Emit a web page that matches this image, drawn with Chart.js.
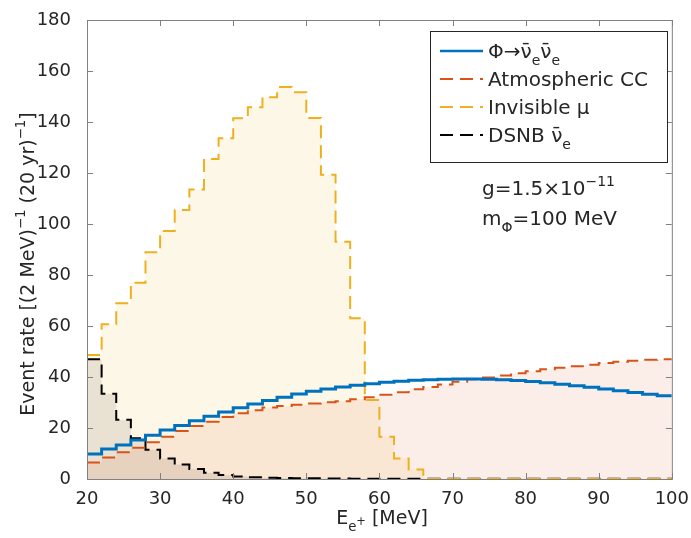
<!DOCTYPE html>
<html>
<head>
<meta charset="utf-8">
<script src="https://cdn.jsdelivr.net/npm/chart.js@4.4.1/dist/chart.umd.min.js"></script>
<style>
  html, body { margin: 0; padding: 0; background: #fff; }
</style>
</head>
<body>
<canvas id="chart" width="691" height="538"></canvas>
<script>
// bin edges in MeV (2 MeV bins), values are per bin starting at the left edge
var binEdges = [20, 22, 24, 26, 28, 30, 32, 34, 36, 38, 40, 42, 44, 46, 48, 50, 52, 54, 56, 58,
                60, 62, 64, 66, 68, 70, 72, 74, 76, 78, 80, 82, 84, 86, 88, 90, 92, 94, 96, 98, 100];

var phiRate = [9.8, 11.8, 13.3, 15.3, 17.2, 19.2, 21.0, 22.8, 24.6, 26.3,
               27.9, 29.4, 30.8, 32.1, 33.3, 34.4, 35.3, 36.1, 36.8, 37.4,
               37.9, 38.3, 38.7, 38.9, 39.1, 39.2, 39.2, 39.1, 38.9, 38.6,
               38.2, 37.7, 37.2, 36.6, 36.0, 35.3, 34.6, 33.9, 33.2, 32.6];

var atmRate = [6.5, 8.4, 10.5, 12.3, 14.4, 16.6, 18.8, 20.8, 22.5, 24.3,
               25.8, 27.0, 28.0, 28.6, 29.1, 29.6, 30.1, 30.5, 31.3, 32.1,
               33.0, 34.0, 35.2, 36.1, 37.1, 38.1, 39.1, 39.8, 40.6, 41.5,
               42.3, 43.0, 43.6, 44.2, 44.8, 45.5, 46.0, 46.4, 46.8, 47.0];

var invisibleMu = [48.6, 60.7, 68.9, 77.0, 88.9, 97.3, 105.5, 113.5, 125.5, 133.6,
                   141.5, 145.8, 149.7, 153.7, 151.7, 141.6, 119.3, 93.0, 63.0, 31.0,
                   16.6, 8.0, 3.7, 0, 0, 0, 0, 0, 0, 0,
                   0, 0, 0, 0, 0, 0, 0, 0, 0, 0];

var dsnbRate = [47.0, 33.4, 23.2, 16.0, 11.5, 8.0, 5.7, 3.9, 2.5, 1.6,
                1.0, 0.7, 0.5, 0.4, 0.3, 0.25, 0.2, 0.15, 0.12, 0.1,
                0.1, 0.1, 0.1, 0.1, 0.1, 0.1, 0.1, 0.1, 0.1, 0.1,
                0.1, 0.1, 0.1, 0.1, 0.1, 0.1, 0.1, 0.1, 0.1, 0.1];

var xTicks = [20, 30, 40, 50, 60, 70, 80, 90, 100];
var yTicks = [0, 20, 40, 60, 80, 100, 120, 140, 160, 180];

var FONT = '"DejaVu Sans", sans-serif';
var TEXT = '#262626';
var AXIS = '#808080';

// histogram points: value i holds from binEdges[i] to binEdges[i+1]
function steps(vals) {
  return binEdges.map(function(x, i) {
    return {x: x, y: vals[Math.min(i, vals.length - 1)]};
  });
}

// text made of pieces, some sub/superscript
var SHIFT = {sub: 0.35, sup: -0.45, subsup: 0.05};
function pieceSize(p, size) {
  if (p[1] === 'subsup') return size * 0.6;
  return p[1] ? size * 0.7 : size;
}
function richWidth(ctx, parts, size) {
  var w = 0;
  parts.forEach(function(p) {
    ctx.font = pieceSize(p, size) + 'px ' + FONT;
    w += ctx.measureText(p[0]).width;
  });
  return w;
}
function drawRich(ctx, parts, x, y, size) {
  parts.forEach(function(p) {
    var dy = p[1] ? SHIFT[p[1]] * size : 0;
    ctx.font = pieceSize(p, size) + 'px ' + FONT;
    ctx.fillText(p[0], x, y + dy);
    x += ctx.measureText(p[0]).width;
  });
  return x;
}

var legendItems = [
  {parts: [['Φ→ν\u0304', ''], ['e', 'sub'], ['ν\u0304', ''], ['e', 'sub']], color: '#0072BD', dash: []},
  {parts: [['Atmospheric CC', '']], color: '#D95319', dash: [13, 7]},
  {parts: [['Invisible μ', '']], color: '#EDB120', dash: [13, 7]},
  {parts: [['DSNB ν\u0304', ''], ['e', 'sub']], color: '#000000', dash: [13, 7]}
];

var decorations = {
  id: 'decorations',
  afterDraw: function(chart) {
    var ctx = chart.ctx;
    var a = chart.chartArea;
    var xs = chart.scales.x, ys = chart.scales.y;
    ctx.save();

    // box and inner ticks
    ctx.strokeStyle = AXIS;
    ctx.lineWidth = 1;
    ctx.setLineDash([]);
    ctx.strokeRect(a.left + 0.5, a.top + 0.5, a.right - a.left, a.bottom - a.top);
    ctx.beginPath();
    xTicks.forEach(function(v) {
      var px = Math.round(xs.getPixelForValue(v)) + 0.5;
      ctx.moveTo(px, a.bottom); ctx.lineTo(px, a.bottom - 6);
      ctx.moveTo(px, a.top); ctx.lineTo(px, a.top + 6);
    });
    yTicks.forEach(function(v) {
      var py = Math.round(ys.getPixelForValue(v)) + 0.5;
      ctx.moveTo(a.left, py); ctx.lineTo(a.left + 6, py);
      ctx.moveTo(a.right, py); ctx.lineTo(a.right - 6, py);
    });
    ctx.stroke();

    // axis titles
    ctx.fillStyle = TEXT;
    ctx.textBaseline = 'alphabetic';
    ctx.textAlign = 'left';
    var xt = [['E', ''], ['e', 'sub'], ['+', 'subsup'], [' [MeV]', '']];
    var w = richWidth(ctx, xt, 19);
    drawRich(ctx, xt, 382 - w / 2, 524, 19);

    var yt = [['Event rate [(2 MeV)', ''], ['−1', 'sup'], [' (20 yr)', ''], ['−1', 'sup'], [']', '']];
    ctx.save();
    ctx.translate(34, 264);
    ctx.rotate(-Math.PI / 2);
    w = richWidth(ctx, yt, 19);
    drawRich(ctx, yt, -w / 2, 0, 19);
    ctx.restore();

    // legend
    var bx = 430, by = 31, bw = 237, bh = 131;
    ctx.fillStyle = '#fff';
    ctx.fillRect(bx, by, bw, bh);
    ctx.strokeStyle = '#262626';
    ctx.lineWidth = 1;
    ctx.strokeRect(bx + 0.5, by + 0.5, bw, bh);
    legendItems.forEach(function(it, i) {
      var cy = by + 20 + i * 28;
      ctx.strokeStyle = it.color;
      ctx.lineWidth = it.dash.length ? 2 : 2.5;
      ctx.setLineDash(it.dash);
      ctx.beginPath();
      ctx.moveTo(bx + 10, cy);
      ctx.lineTo(bx + 53, cy);
      ctx.stroke();
      ctx.setLineDash([]);
      ctx.fillStyle = TEXT;
      drawRich(ctx, it.parts, bx + 58, cy + 7, 20);
    });

    // parameter annotation
    ctx.fillStyle = TEXT;
    drawRich(ctx, [['g=1.5×10', ''], ['−11', 'sup']], 482, 195, 20);
    drawRich(ctx, [['m', ''], ['Φ', 'sub'], ['=100 MeV', '']], 482, 225, 20);

    ctx.restore();
  }
};

function histLine(label, vals, color, dash, width, fill) {
  return {
    label: label,
    data: steps(vals),
    stepped: true,
    borderColor: color,
    borderWidth: width,
    borderDash: dash,
    pointRadius: 0,
    fill: fill ? 'origin' : false,
    backgroundColor: fill || 'transparent'
  };
}

new Chart(document.getElementById('chart'), {
  type: 'line',
  data: {
    datasets: [
      histLine('Φ→ν̄eν̄e', phiRate, '#0072BD', [], 3, null),
      histLine('Atmospheric CC', atmRate, '#D95319', [13, 7], 2, 'rgba(217,83,25,0.1)'),
      histLine('Invisible μ', invisibleMu, '#EDB120', [13, 7], 2, 'rgba(237,177,32,0.1)'),
      histLine('DSNB ν̄e', dsnbRate, '#000000', [13, 7], 2, 'rgba(40,30,20,0.1)')
    ]
  },
  options: {
    responsive: false,
    animation: false,
    layout: {padding: {top: 20, right: 15, left: 0, bottom: 0}},
    plugins: {
      legend: {display: false},
      tooltip: {enabled: false},
      filler: {drawTime: 'beforeDatasetsDraw'}
    },
    scales: {
      x: {
        type: 'linear',
        min: 20, max: 100,
        afterBuildTicks: function(s) { s.ticks = xTicks.map(function(v) { return {value: v}; }); },
        afterFit: function(s) { s.height = 59; },
        ticks: {autoSkip: false, maxRotation: 0, color: TEXT, font: {family: FONT, size: 18}, padding: 2},
        grid: {display: false},
        border: {display: false}
      },
      y: {
        min: 0, max: 180,
        afterBuildTicks: function(s) { s.ticks = yTicks.map(function(v) { return {value: v}; }); },
        afterFit: function(s) { s.width = 87; },
        ticks: {autoSkip: false, color: TEXT, font: {family: FONT, size: 18}, padding: 8},
        grid: {display: false},
        border: {display: false}
      }
    }
  },
  plugins: [decorations]
});
</script>
</body>
</html>
